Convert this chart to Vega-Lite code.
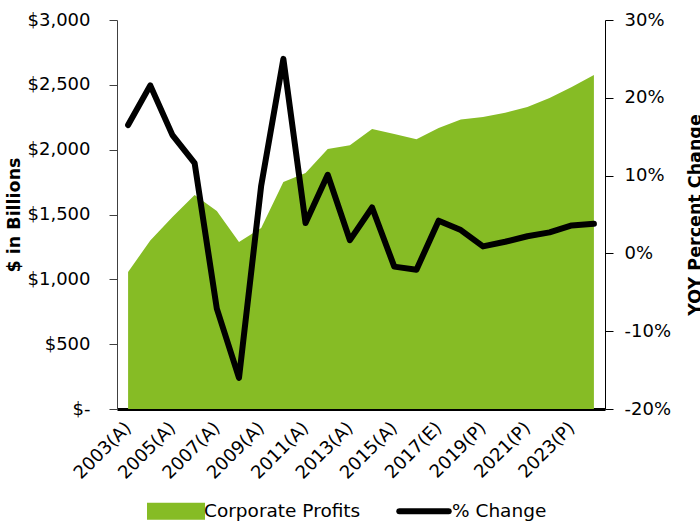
{
  "$schema": "https://vega.github.io/schema/vega-lite/v6.json",
  "width": 488,
  "height": 389,
  "autosize": {"type": "none"},
  "padding": {"left": 117, "top": 20, "right": 95, "bottom": 112},
  "config": {
    "font": "DejaVu Sans",
    "view": {"stroke": null},
    "axis": {"labelFont": "DejaVu Sans", "labelFontSize": 18, "labelColor": "#000000", "titleFont": "DejaVu Sans", "titleFontSize": 17.5, "titleFontWeight": "bold", "titleColor": "#000000", "grid": false}
  },
  "data": {
    "values": [
      {"year": "2003(A)", "profits": 1056, "pct": 16.5},
      {"year": "2004(A)", "profits": 1300, "pct": 21.6},
      {"year": "2005(A)", "profits": 1480, "pct": 15.2},
      {"year": "2006(A)", "profits": 1650, "pct": 11.6},
      {"year": "2007(A)", "profits": 1527, "pct": -7.1},
      {"year": "2008(A)", "profits": 1288, "pct": -16.0},
      {"year": "2009(A)", "profits": 1396, "pct": 8.7},
      {"year": "2010(A)", "profits": 1750, "pct": 25.0},
      {"year": "2011(A)", "profits": 1820, "pct": 3.9},
      {"year": "2012(A)", "profits": 2005, "pct": 10.1},
      {"year": "2013(A)", "profits": 2035, "pct": 1.7},
      {"year": "2014(A)", "profits": 2159, "pct": 5.9},
      {"year": "2015(A)", "profits": 2120, "pct": -1.7},
      {"year": "2016(A)", "profits": 2080, "pct": -2.1},
      {"year": "2017(E)", "profits": 2167, "pct": 4.2},
      {"year": "2018(P)", "profits": 2232, "pct": 3.0},
      {"year": "2019(P)", "profits": 2251, "pct": 0.9},
      {"year": "2020(P)", "profits": 2285, "pct": 1.5},
      {"year": "2021(P)", "profits": 2330, "pct": 2.2},
      {"year": "2022(P)", "profits": 2398, "pct": 2.7},
      {"year": "2023(P)", "profits": 2483, "pct": 3.6},
      {"year": "2024(P)", "profits": 2575, "pct": 3.8}
    ]
  },
  "encoding": {
    "x": {
      "field": "year",
      "type": "ordinal",
      "sort": null,
      "scale": {"type": "point", "padding": 0.5},
      "axis": {
        "title": null,
        "values": ["2003(A)", "2005(A)", "2007(A)", "2009(A)", "2011(A)", "2013(A)", "2015(A)", "2017(E)", "2019(P)", "2021(P)", "2023(P)"],
        "labelAngle": -45,
        "labelAlign": "right",
        "labelBaseline": "middle",
        "labelPadding": 16,
        "ticks": false,
        "domainColor": "#000000",
        "domainWidth": 3
      }
    }
  },
  "layer": [
    {
      "mark": {"type": "area", "color": "#86BC25", "opacity": 1},
      "encoding": {
        "y": {
          "field": "profits",
          "type": "quantitative",
          "scale": {"domain": [0, 3000], "nice": false},
          "axis": {
            "title": "$ in Billions",
            "values": [0, 500, 1000, 1500, 2000, 2500, 3000],
            "labelExpr": "datum.value == 0 ? '$-' : '$' + format(datum.value, ',')",
            "tickSize": 8,
            "tickColor": "#404040",
            "domainColor": "#404040",
            "labelPadding": 19,
            "titlePadding": 4
          }
        },
        "color": {
          "datum": "Corporate Profits",
          "scale": {"domain": ["Corporate Profits", "% Change"], "range": ["#86BC25", "#000000"]},
          "legend": {
            "title": null,
            "orient": "none",
            "direction": "horizontal",
            "legendX": 30,
            "legendY": 462,
            "labelFont": "DejaVu Sans",
            "labelFontSize": 18.5,
            "labelColor": "#000000",
            "labelLimit": 300,
            "symbolSize": 2704,
            "labelOffset": -1,
            "columnPadding": 26,
            "padding": 0,
            "symbolOpacity": 1,
            "encode": {
              "symbols": {
                "update": {
                  "shape": {"signal": "datum.value === '% Change' ? 'M-0.95,-0.21M-0.95,0H0.95M0.95,0.21' : 'M-1,-0.21h2v0.42h-2z'"},
                  "fill": {"signal": "datum.value === '% Change' ? 'transparent' : '#86BC25'"},
                  "stroke": {"signal": "datum.value === '% Change' ? '#000000' : 'transparent'"},
                  "strokeWidth": {"value": 6},
                  "strokeCap": {"value": "round"},
                  "opacity": {"value": 1}
                }
              }
            }
          }
        }
      }
    },
    {
      "mark": {"type": "line", "strokeWidth": 6, "strokeJoin": "round", "strokeCap": "round"},
      "encoding": {
        "y": {
          "field": "pct",
          "type": "quantitative",
          "scale": {"domain": [-20, 30], "nice": false},
          "axis": {
            "orient": "right",
            "title": "YOY Percent Change",
            "titleAngle": -90,
            "values": [-20, -10, 0, 10, 20, 30],
            "labelExpr": "datum.value + '%'",
            "tickSize": 8,
            "tickColor": "#000000",
            "domainColor": "#000000",
            "labelPadding": 11,
            "titlePadding": 34
          }
        },
        "color": {"datum": "% Change"}
      }
    }
  ],
  "resolve": {"scale": {"y": "independent"}}
}
